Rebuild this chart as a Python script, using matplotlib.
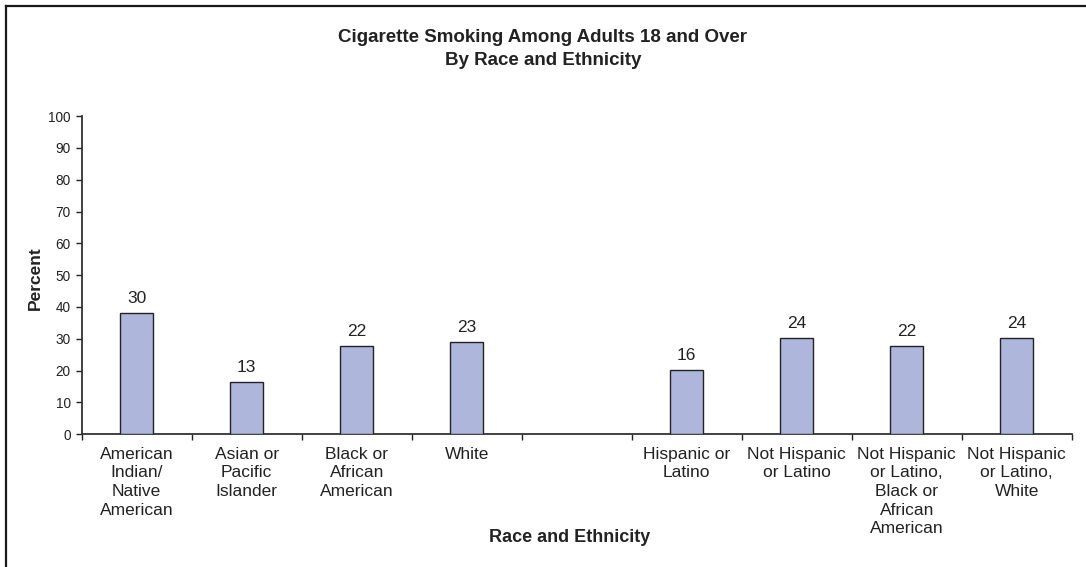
import numpy as np
import matplotlib
matplotlib.use("Agg")
import matplotlib.pyplot as plt
from matplotlib.lines import Line2D

plt.rcParams["font.family"] = ["Liberation Sans", "DejaVu Sans"]

# Smoking prevalence (%) among adults 18+, grouped by race and by ethnicity
race_categories = [
    "American\nIndian/\nNative\nAmerican",
    "Asian or\nPacific\nIslander",
    "Black or\nAfrican\nAmerican",
    "White",
]
race_values = [30, 13, 22, 23]

ethnicity_categories = [
    "Hispanic or\nLatino",
    "Not Hispanic\nor Latino",
    "Not Hispanic\nor Latino,\nBlack or\nAfrican\nAmerican",
    "Not Hispanic\nor Latino,\nWhite",
]
ethnicity_values = [16, 24, 22, 24]

y_tick_labels = [0, 10, 20, 30, 40, 50, 60, 70, 80, 90, 100]

# The printed percent scale runs longer than the labelled values
axis_stretch = 1.267

BAR_COLOR = "#aeb6dc"
INK = "#222222"

categories = race_categories + ethnicity_categories
values = race_values + ethnicity_values
# one empty slot separates the race group from the ethnicity group
positions = list(range(len(race_values))) + [
    len(race_values) + 1 + i for i in range(len(ethnicity_values))
]
n_slots = len(race_values) + 1 + len(ethnicity_values)

fig = plt.figure(figsize=(10.86, 5.67), dpi=100)
ax = fig.add_axes([0.0752, 0.234, 0.9116, 0.5614])

bars = ax.bar(positions, values, width=0.3, color=BAR_COLOR,
              edgecolor=INK, linewidth=1.0, zorder=3)
for rect, v in zip(bars, values):
    ax.annotate(f"{v}", (rect.get_x() + rect.get_width() / 2, rect.get_height()),
                xytext=(0, 5), textcoords="offset points",
                ha="center", va="bottom", fontsize=12.5, color=INK)

ax.set_xlim(-0.5, n_slots - 0.5)
ax.set_ylim(0, max(y_tick_labels) / axis_stretch)
ax.set_yticks([t / axis_stretch for t in y_tick_labels])
ax.set_yticklabels([str(t) for t in y_tick_labels], fontsize=9.8, color=INK)

ax.set_xticks(positions)
ax.set_xticklabels(categories, fontsize=12.5, color=INK, linespacing=1.3,
                   ha="center", va="top")
ax.tick_params(axis="x", which="major", length=0, pad=9)
ax.set_xticks(np.arange(-0.5, n_slots, 1.0), minor=True)
ax.tick_params(axis="x", which="minor", length=4, width=1.0, color=INK,
               direction="out")
ax.tick_params(axis="y", length=4, width=1.0, color=INK, direction="out", pad=4)

for side in ("top", "right"):
    ax.spines[side].set_visible(False)
for side in ("left", "bottom"):
    ax.spines[side].set_color("#333333")
    ax.spines[side].set_linewidth(1.3)

fig.text(0.5, 1 - 49 / 567, "Cigarette Smoking Among Adults 18 and Over\nBy Race and Ethnicity",
         ha="center", va="center", fontsize=13.5, fontweight="bold", color=INK,
         linespacing=1.4)
fig.text(35 / 1086, 1 - 278 / 567, "Percent", rotation=90, ha="center", va="center",
         fontsize=12.5, fontweight="bold", color=INK)
fig.text(570 / 1086, 1 - 537 / 567, "Race and Ethnicity", ha="center", va="center",
         fontsize=13, fontweight="bold", color=INK)

# outer frame edges
fig.add_artist(Line2D([6 / 1086, 1.0], [1 - 5.5 / 567] * 2,
                      transform=fig.transFigure, color="#1a1a1a", linewidth=1.6))
fig.add_artist(Line2D([6 / 1086] * 2, [0.0, 1 - 5.5 / 567],
                      transform=fig.transFigure, color="#1a1a1a", linewidth=1.6))

fig.savefig("out.png", dpi=100, facecolor="white")
